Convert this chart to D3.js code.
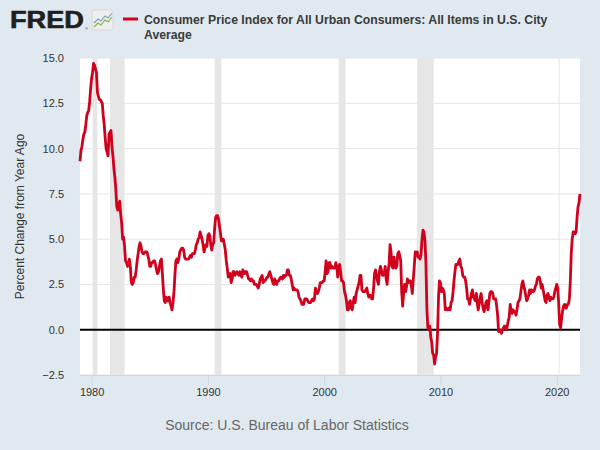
<!DOCTYPE html>
<html>
<head>
<meta charset="utf-8">
<script src="https://cdn.jsdelivr.net/npm/d3@7"></script>
<style>
  body { margin: 0; background: #e1e9f0; }
  text { font-family: "Liberation Sans", Arial, sans-serif; }
</style>
</head>
<body>
<div id="chart"></div>
<script>
// monthly data, percent change from year ago, starting Jan 1979
var startMonth = "1979-01";
var cpiChange = [
  9.3, 9.9, 10.1, 10.5, 10.8, 10.9, 11.3, 11.8, 12.0, 12.1, 12.6, 13.3,
  13.9, 14.2, 14.7, 14.6, 14.4, 14.2, 13.1, 12.9, 12.7, 12.7, 12.6, 12.5,
  11.8, 11.3, 10.6, 10.0, 9.8, 9.6, 10.8, 10.9, 11.0, 10.1, 9.6, 8.9,
  8.4, 7.7, 6.8, 6.6, 6.8, 7.1, 6.4, 5.9, 5.0, 5.1, 4.6, 3.8,
  3.7, 3.5, 3.6, 3.9, 3.5, 2.6, 2.5, 2.6, 2.9, 2.9, 3.3, 3.8,
  4.2, 4.6, 4.8, 4.6, 4.3, 4.2, 4.2, 4.3, 4.3, 4.3, 4.1, 3.9,
  3.5, 3.5, 3.7, 3.7, 3.8, 3.8, 3.6, 3.3, 3.1, 3.2, 3.5, 3.8,
  3.9, 3.1, 2.3, 1.6, 1.5, 1.8, 1.6, 1.6, 1.8, 1.5, 1.3, 1.1,
  1.5, 2.1, 3.0, 3.8, 3.9, 3.7, 3.9, 4.3, 4.4, 4.5, 4.5, 4.4,
  4.0, 3.9, 3.9, 3.9, 3.9, 4.0, 4.1, 4.0, 4.2, 4.2, 4.2, 4.4,
  4.7, 4.8, 5.0, 5.1, 5.4, 5.2, 5.0, 4.7, 4.3, 4.5, 4.7, 4.6,
  5.2, 5.3, 5.2, 4.7, 4.4, 4.7, 4.8, 5.6, 6.2, 6.3, 6.3, 6.1,
  5.7, 5.3, 4.9, 4.9, 5.0, 4.7, 4.4, 3.8, 3.4, 2.9, 3.0, 3.1,
  2.6, 2.8, 3.2, 3.2, 3.0, 3.1, 3.2, 3.1, 3.0, 3.2, 3.0, 2.9,
  3.3, 3.2, 3.1, 3.2, 3.2, 3.0, 2.8, 2.8, 2.7, 2.8, 2.7, 2.7,
  2.5, 2.5, 2.5, 2.4, 2.3, 2.5, 2.8, 2.9, 3.0, 2.6, 2.7, 2.7,
  2.8, 2.9, 2.9, 3.1, 3.2, 3.0, 2.8, 2.6, 2.5, 2.8, 2.6, 2.5,
  2.7, 2.7, 2.8, 2.9, 2.9, 2.8, 3.0, 2.9, 3.0, 3.0, 3.3, 3.3,
  3.0, 3.0, 2.8, 2.5, 2.2, 2.3, 2.2, 2.2, 2.2, 2.1, 1.8, 1.7,
  1.6, 1.4, 1.4, 1.4, 1.7, 1.7, 1.7, 1.6, 1.5, 1.5, 1.5, 1.6,
  1.7, 1.6, 1.7, 2.3, 2.1, 2.0, 2.1, 2.3, 2.6, 2.6, 2.6, 2.7,
  2.7, 3.2, 3.8, 3.1, 3.2, 3.7, 3.7, 3.4, 3.5, 3.4, 3.4, 3.4,
  3.7, 3.5, 2.9, 3.3, 3.6, 3.2, 2.7, 2.7, 2.6, 2.1, 1.9, 1.6,
  1.1, 1.1, 1.5, 1.6, 1.2, 1.1, 1.5, 1.8, 1.5, 2.0, 2.2, 2.4,
  2.6, 3.0, 3.0, 2.2, 2.1, 2.1, 2.1, 2.2, 2.3, 2.0, 1.8, 1.9,
  1.9, 1.7, 1.7, 2.3, 3.1, 3.3, 3.0, 2.7, 2.5, 3.2, 3.5, 3.3,
  3.0, 3.0, 3.1, 3.5, 2.8, 2.5, 3.2, 3.6, 4.7, 4.3, 3.5, 3.4,
  4.0, 3.6, 3.4, 3.5, 4.2, 4.3, 4.1, 3.8, 2.1, 1.3, 2.0, 2.5,
  2.1, 2.4, 2.8, 2.6, 2.7, 2.7, 2.4, 2.0, 2.8, 3.5, 4.3, 4.1,
  4.3, 4.0, 4.0, 3.9, 4.2, 5.0, 5.5, 5.4, 4.9, 3.7, 1.1, 0.1,
  0.0, 0.2, -0.4, -0.7, -1.3, -1.4, -1.9, -1.5, -1.3, -0.2, 1.8, 2.7,
  2.6, 2.1, 2.3, 2.2, 2.0, 1.1, 1.2, 1.1, 1.1, 1.2, 1.1, 1.5,
  1.6, 2.1, 2.7, 3.2, 3.6, 3.6, 3.6, 3.8, 3.9, 3.5, 3.4, 3.0,
  2.9, 2.9, 2.7, 2.3, 1.7, 1.7, 1.4, 1.7, 2.0, 2.2, 1.8, 1.7,
  1.6, 2.0, 1.5, 1.1, 1.4, 1.8, 2.0, 1.5, 1.2, 1.0, 1.2, 1.5,
  1.6, 1.1, 1.5, 2.0, 2.1, 2.1, 2.0, 1.7, 1.7, 1.7, 1.3, 0.8,
  -0.1, 0.0, -0.1, -0.2, 0.0, 0.1, 0.2, 0.2, 0.0, 0.2, 0.5, 0.7,
  1.4, 1.0, 0.9, 1.1, 1.0, 1.0, 0.8, 1.1, 1.5, 1.6, 1.7, 2.1,
  2.5, 2.7, 2.4, 2.2, 1.9, 1.6, 1.7, 1.9, 2.2, 2.0, 2.2, 2.1,
  2.1, 2.2, 2.4, 2.5, 2.8, 2.9, 2.9, 2.7, 2.3, 2.5, 2.2, 1.9,
  1.6, 1.5, 1.9, 2.0, 1.8, 1.6, 1.8, 1.7, 1.7, 1.8, 2.1, 2.3,
  2.5, 2.3, 1.5, 0.3, 0.1, 0.6, 1.0, 1.3, 1.4, 1.2, 1.2, 1.4,
  1.4, 1.7, 2.6, 4.2, 5.0, 5.4, 5.4, 5.3, 5.4, 6.2, 6.8, 7.0,
  7.5
];

// recession shading (start month, end month)
var recessionStart = ["1980-02", "1981-08", "1990-08", "2001-04", "2008-01", "2020-03"];
var recessionEnd = ["1980-07", "1982-11", "1991-03", "2001-11", "2009-06", "2020-04"];

var yTicks = [-2.5, 0, 2.5, 5, 7.5, 10, 12.5, 15];
var xTickYears = [1980, 1990, 2000, 2010, 2020];

var titleLines = ["Consumer Price Index for All Urban Consumers: All Items in U.S. City", "Average"];
var yLabel = "Percent Change from Year Ago";
var sourceText = "Source: U.S. Bureau of Labor Statistics";

//define chart parameters
var svgWidth = 600;
var svgHeight = 450;
var margin = { top: 58, right: 20, bottom: 75, left: 80 };
var width = svgWidth - margin.left - margin.right;
var height = svgHeight - margin.top - margin.bottom;

var parseMonth = d3.timeParse("%Y-%m");
var start = parseMonth(startMonth);
var data = cpiChange.map(function(v, i) {
  return { date: d3.timeMonth.offset(start, i), value: v };
});

var svg = d3.select("#chart")
  .append("svg")
  .attr("width", svgWidth)
  .attr("height", svgHeight);

svg.append("rect")
  .attr("width", svgWidth)
  .attr("height", svgHeight)
  .attr("fill", "#e1e9f0");

var chartGroup = svg.append("g")
  .attr("transform", `translate(${margin.left}, ${margin.top})`);

var xScale = d3.scaleTime()
  .domain([start, data[data.length - 1].date])
  .range([0, width]);
var yScale = d3.scaleLinear()
  .domain([-2.5, 15])
  .range([height, 0]);

chartGroup.append("rect")
  .attr("width", width)
  .attr("height", height)
  .attr("fill", "#ffffff");

//recession bands
chartGroup.selectAll(".recession")
  .data(recessionStart)
  .enter()
  .append("rect")
  .attr("class", "recession")
  .attr("x", d => xScale(parseMonth(d)))
  .attr("width", (d, i) => xScale(parseMonth(recessionEnd[i])) - xScale(parseMonth(d)))
  .attr("y", 0)
  .attr("height", height)
  .attr("fill", "#e6e6e6");

//horizontal grid
chartGroup.selectAll(".grid")
  .data(yTicks)
  .enter()
  .append("line")
  .attr("x1", 0)
  .attr("x2", width)
  .attr("y1", d => yScale(d))
  .attr("y2", d => yScale(d))
  .attr("stroke", "#e6e6e6")
  .attr("stroke-width", 1);

//axes
var bottomAxis = d3.axisBottom(xScale)
  .tickValues(xTickYears.map(y => new Date(y, 0, 1)))
  .tickFormat(d3.timeFormat("%Y"))
  .tickSize(10)
  .tickPadding(3);
var xAxis = chartGroup.append("g")
  .attr("transform", `translate(0, ${height})`)
  .call(bottomAxis);
xAxis.select(".domain").attr("stroke", "#ccd6eb").attr("d", `M0,0.5H${width}`);
xAxis.selectAll(".tick line").attr("stroke", "#ccd6eb");
xAxis.selectAll("text")
  .attr("fill", "#333333")
  .style("font-size", "11px")
  .style("font-family", "Liberation Sans, Arial, sans-serif");

var leftAxis = d3.axisLeft(yScale)
  .tickValues(yTicks)
  .tickFormat(d3.format(".1f"))
  .tickSize(0)
  .tickPadding(16);
var yAxis = chartGroup.append("g")
  .call(leftAxis);
yAxis.select(".domain").remove();
yAxis.selectAll("text")
  .attr("fill", "#333333")
  .style("font-size", "11px")
  .style("font-family", "Liberation Sans, Arial, sans-serif");

//zero line
chartGroup.append("line")
  .attr("x1", 0)
  .attr("x2", width)
  .attr("y1", yScale(0))
  .attr("y2", yScale(0))
  .attr("stroke", "#000000")
  .attr("stroke-width", 2);

//series line
var line = d3.line()
  .x(d => xScale(d.date))
  .y(d => yScale(d.value));
chartGroup.append("path")
  .datum(data)
  .attr("d", line)
  .attr("fill", "none")
  .attr("stroke", "#d1001c")
  .attr("stroke-width", 2.8)
  .attr("stroke-linejoin", "round");

//y label
svg.append("text")
  .attr("transform", `translate(24, ${margin.top + height / 2}) rotate(-90)`)
  .attr("text-anchor", "middle")
  .attr("fill", "#333333")
  .style("font-size", "12px")
  .text(yLabel);

//source
svg.append("text")
  .attr("x", 287)
  .attr("y", 430)
  .attr("text-anchor", "middle")
  .attr("fill", "#666666")
  .style("font-size", "14px")
  .text(sourceText);

//FRED logo
svg.append("text")
  .attr("x", 10)
  .attr("y", 28)
  .attr("textLength", 74)
  .attr("lengthAdjust", "spacingAndGlyphs")
  .attr("fill", "#231f20")
  .attr("stroke", "#231f20")
  .attr("stroke-width", 0.6)
  .style("font-size", "23px")
  .style("font-weight", "bold")
  .text("FRED");
svg.append("text")
  .attr("x", 85)
  .attr("y", 30)
  .attr("fill", "#231f20")
  .style("font-size", "4px")
  .text("®");
var icon = svg.append("g").attr("transform", "translate(92, 10)");
icon.append("rect")
  .attr("width", 21)
  .attr("height", 20)
  .attr("rx", 2)
  .attr("fill", "#eeeeee")
  .attr("stroke", "#d8d8d8");
icon.append("path")
  .attr("d", "M2,13 L6,9 L9,11 L13,6 L16,8 L20,3")
  .attr("fill", "none")
  .attr("stroke", "#7aa1c4")
  .attr("stroke-width", 1.2);
icon.append("path")
  .attr("d", "M2,17 L6,13 L9,15 L13,10 L16,12 L20,7")
  .attr("fill", "none")
  .attr("stroke", "#8cb04a")
  .attr("stroke-width", 1.2);

//legend / title
svg.append("line")
  .attr("x1", 123)
  .attr("x2", 138)
  .attr("y1", 19)
  .attr("y2", 19)
  .attr("stroke", "#d1001c")
  .attr("stroke-width", 3);
var title = svg.append("text")
  .attr("fill", "#3a3a3a")
  .style("font-size", "12.25px")
  .style("font-weight", "bold");
title.selectAll("tspan")
  .data(titleLines)
  .enter()
  .append("tspan")
  .attr("x", 144)
  .attr("y", (d, i) => 23.5 + i * 15.5)
  .text(d => d);
</script>
</body>
</html>
